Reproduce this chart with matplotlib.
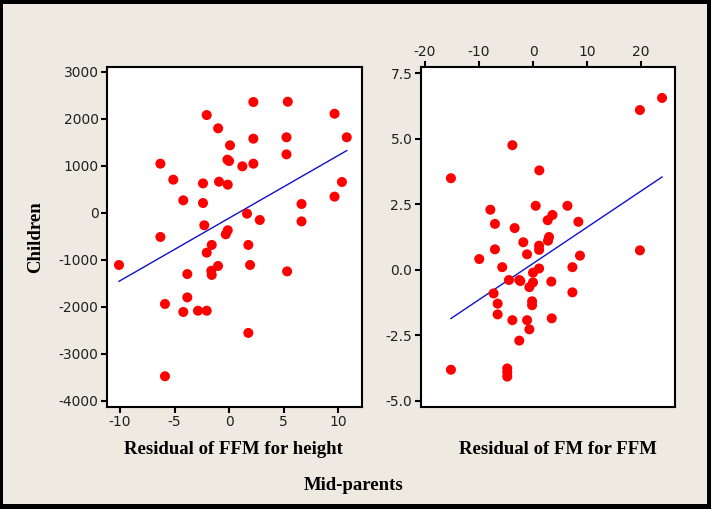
import matplotlib
matplotlib.use('Agg')
import matplotlib.pyplot as plt
from matplotlib.patches import Rectangle
import numpy as np

plt.rcParams['axes.unicode_minus'] = False

# left panel: Residual of FFM for height (mid-parents) vs children
ffm_x = [-6.3, -2.05, -1.0, 2.23, 5.39, 9.68, 10.8, 5.27, 2.23, 0.09, 0.0, -0.15,
         1.22, 2.23, 5.27, -5.12, -2.39, -0.92, -0.12, -4.2, -2.39, 6.65, 9.68,
         10.36, 1.65, 2.82, 6.65, -6.3, -2.27, -0.12, -0.3, 1.77, -1.59, -2.05,
         -10.1, -1.01, -1.63, -1.59, -3.83, 1.93, 5.33, -5.88, -3.83, -4.2,
         -2.85, -2.05, 1.77, -5.88]
ffm_y = [1044, 2078, 1796, 2355, 2362, 2107, 1605, 1605, 1576, 1435, 1100, 1130,
         988, 1044, 1242, 704, 625, 661, 598, 265, 208, 187, 343,
         655, -19, -153, -183, -514, -266, -372, -457, -684, -684, -848,
         -1110, -1131, -1233, -1322, -1303, -1110, -1246, -1939, -1799, -2109,
         -2083, -2083, -2555, -3476]
ffm_fit = [133.0, -114.0]   # slope, intercept

# right panel: Residual of FM for FFM
fm_x = [23.9, 19.8, -3.82, -15.2, 1.17, 0.5, 6.38, -7.9, -7.05, -3.4, 2.72, 3.6,
        8.4, 2.97, 2.78, -1.8, 1.13, 1.13, -7.05, 19.8, -1.1, 8.7, -9.95,
        -5.7, 1.13, 0.0, 7.3, -4.45, -2.54, -2.35, 0.0, -0.67, 3.4, -7.3, 7.3,
        -6.55, -0.17, -0.17, -6.55, -3.82, -1.1, 3.47, -0.67, -2.54, -15.2,
        -4.77, -4.77, -4.77]
fm_y = [6.55, 6.09, 4.75, 3.49, 3.79, 2.44, 2.44, 2.29, 1.75, 1.59, 1.89, 2.09,
        1.83, 1.25, 1.11, 1.05, 0.92, 0.76, 0.78, 0.74, 0.59, 0.54, 0.41,
        0.10, 0.05, -0.11, 0.10, -0.39, -0.39, -0.43, -0.48, -0.66, -0.45, -0.90, -0.86,
        -1.29, -1.2, -1.35, -1.70, -1.92, -1.92, -1.85, -2.27, -2.70, -3.81,
        -3.76, -3.91, -4.07]
fm_fit = [0.138, 0.24]

W, H = 711, 509
fig = plt.figure(figsize=(W/100, H/100), dpi=100)
fig.patch.set_facecolor('black')
fig.patches.append(Rectangle((3/W, 5/H), (W-3-4)/W, (H-4-5)/H, transform=fig.transFigure,
                             facecolor='#EEEAE2', edgecolor='none', zorder=-5))

def panel(rect, x, y, fit, xlim, ylim, xticks, yticks, ylabels, top=False):
    ax = fig.add_axes(rect)
    ax.set_facecolor('white')
    ax.scatter(x, y, s=52, c='#FF0000', edgecolors='none', zorder=3)
    xs = np.array([min(x), max(x)])
    ax.plot(xs, fit[0]*xs + fit[1], color='#1010CC', lw=1.0, zorder=2)
    ax.set_xlim(xlim)
    ax.set_ylim(ylim)
    ax.set_xticks(xticks)
    ax.set_xticklabels([str(t) for t in xticks])
    ax.set_yticks(yticks)
    ax.set_yticklabels(ylabels)
    ax.tick_params(direction='out', length=4, width=1.5, labelsize=10, pad=2,
                   labelcolor='#202020')
    if top:
        ax.xaxis.tick_top()
    for s in ax.spines.values():
        s.set_linewidth(1.5)
    return ax

panel([107/W, 1-407/H, 255/W, 340/H], ffm_x, ffm_y, ffm_fit,
      (-11.2, 12.2), (-4130, 3100), [-10, -5, 0, 5, 10],
      [-4000, -3000, -2000, -1000, 0, 1000, 2000, 3000],
      ['-4000', '-3000', '-2000', '-1000', '0', '1000', '2000', '3000'])

panel([420.7/W, 1-407/H, 254.3/W, 340/H], fm_x, fm_y, fm_fit,
      (-20.8, 26.3), (-5.23, 7.73), [-20, -10, 0, 10, 20],
      [-5.0, -2.5, 0.0, 2.5, 5.0, 7.5],
      ['-5.0', '-2.5', '0.0', '2.5', '5.0', '7.5'], top=True)

lab = dict(family='Liberation Serif', fontweight='bold', fontsize=13.5, ha='center', va='center')
fig.text(36/W, 1-237/H, 'Children', rotation=90, **lab)
fig.text(233.5/W, 1-449/H, 'Residual of FFM for height', **lab)
fig.text(557.5/W, 1-449/H, 'Residual of FM for FFM', **lab)
fig.text(354/W, 1-485/H, 'Mid-parents', **lab)

fig.savefig('out.png', dpi=100, facecolor=fig.get_facecolor())
